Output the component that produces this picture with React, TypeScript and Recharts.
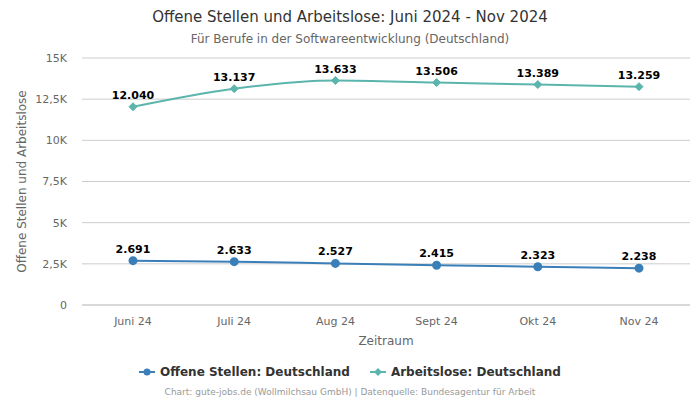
import React from 'react';
import { LineChart, Line, XAxis, YAxis, CartesianGrid, LabelList } from 'recharts';

const months = ['Juni 24', 'Juli 24', 'Aug 24', 'Sept 24', 'Okt 24', 'Nov 24'];
const offeneStellen = [2691, 2633, 2527, 2415, 2323, 2238];
const arbeitslose = [12040, 13137, 13633, 13506, 13389, 13259];
const yTicks = [0, 2500, 5000, 7500, 10000, 12500, 15000];

const BLUE = '#3a7fb8';
const TEAL = '#5bb5ad';
const FONT = '"DejaVu Sans", sans-serif';

const data = months.map((m, i) => ({
  month: m,
  offen: offeneStellen[i],
  arbeitslos: arbeitslose[i],
}));

const fmtK = (v: number) => (v === 0 ? '0' : `${String(v / 1000).replace('.', ',')}K`);
const fmtNum = (v: any) => Number(v).toLocaleString('de-DE');

// diamond marker for the Arbeitslose series
const Diamond = (props: any) => {
  const { cx, cy } = props;
  if (cx == null || cy == null) return null;
  const r = 4;
  return (
    <polygon
      points={`${cx},${cy - r} ${cx + r},${cy} ${cx},${cy + r} ${cx - r},${cy}`}
      fill={TEAL}
      stroke={TEAL}
    />
  );
};

const LegendItem = ({ color, label, diamond }: { color: string; label: string; diamond?: boolean }) => (
  <span style={{ display: 'inline-flex', alignItems: 'center', margin: '0 10px' }}>
    <svg width={16} height={10} style={{ marginRight: 5 }}>
      <line x1={0} y1={5} x2={16} y2={5} stroke={color} strokeWidth={2} />
      {diamond ? (
        <polygon points="8,1 12,5 8,9 4,5" fill={color} />
      ) : (
        <circle cx={8} cy={5} r={3.5} fill={color} />
      )}
    </svg>
    {label}
  </span>
);

export default function App() {
  return (
    <div style={{ position: 'fixed', top: 0, left: 0, width: 700, height: 400, background: '#fff', fontFamily: FONT }}>
      <div style={{ position: 'absolute', top: 8, width: 700, textAlign: 'center', fontSize: 15, color: '#333' }}>
        Offene Stellen und Arbeitslose: Juni 2024 - Nov 2024
      </div>
      <div style={{ position: 'absolute', top: 32, width: 700, textAlign: 'center', fontSize: 12, color: '#666' }}>
        Für Berufe in der Softwareentwicklung (Deutschland)
      </div>
      <LineChart
        width={700}
        height={400}
        data={data}
        margin={{ top: 58, right: 10, bottom: 55, left: 10 }}
      >
        <CartesianGrid vertical={false} stroke="#cccccc" />
        <XAxis
          dataKey="month"
          axisLine={{ stroke: '#cccccc' }}
          tickLine={false}
          padding={{ left: 51, right: 51 }}
          tick={{ fill: '#666', fontSize: 11, fontFamily: FONT }}
          tickMargin={6}
          height={40}
          label={{ value: 'Zeitraum', position: 'insideBottom', offset: 0, fill: '#666', fontSize: 12, fontFamily: FONT }}
        />
        <YAxis
          domain={[0, 15000]}
          ticks={yTicks}
          tickFormatter={fmtK}
          axisLine={false}
          tickLine={false}
          width={72}
          tickMargin={9}
          tick={{ fill: '#666', fontSize: 11, fontFamily: FONT }}
          label={{
            value: 'Offene Stellen und Arbeitslose',
            angle: -90,
            position: 'insideLeft',
            offset: 12,
            style: { textAnchor: 'middle' },
            fill: '#666',
            fontSize: 12,
            fontFamily: FONT,
          }}
        />
        <Line
          type="monotone"
          dataKey="offen"
          stroke={BLUE}
          strokeWidth={2}
          dot={{ r: 3.5, fill: BLUE, stroke: BLUE }}
          isAnimationActive={false}
        >
          <LabelList dataKey="offen" position="top" offset={8} formatter={fmtNum} style={{ fill: '#000', fontSize: 11, fontWeight: 'bold', fontFamily: FONT }} />
        </Line>
        <Line
          type="monotone"
          dataKey="arbeitslos"
          stroke={TEAL}
          strokeWidth={2}
          dot={<Diamond />}
          isAnimationActive={false}
        >
          <LabelList dataKey="arbeitslos" position="top" offset={8} formatter={fmtNum} style={{ fill: '#000', fontSize: 11, fontWeight: 'bold', fontFamily: FONT }} />
        </Line>
      </LineChart>
      <div style={{ position: 'absolute', top: 365, width: 700, textAlign: 'center', fontSize: 12, fontWeight: 'bold', color: '#333' }}>
        <LegendItem color={BLUE} label="Offene Stellen: Deutschland" />
        <LegendItem color={TEAL} label="Arbeitslose: Deutschland" diamond />
      </div>
      <div style={{ position: 'absolute', top: 387, width: 700, textAlign: 'center', fontSize: 9, color: '#999' }}>
        Chart: gute-jobs.de (Wollmilchsau GmbH) | Datenquelle: Bundesagentur für Arbeit
      </div>
    </div>
  );
}
